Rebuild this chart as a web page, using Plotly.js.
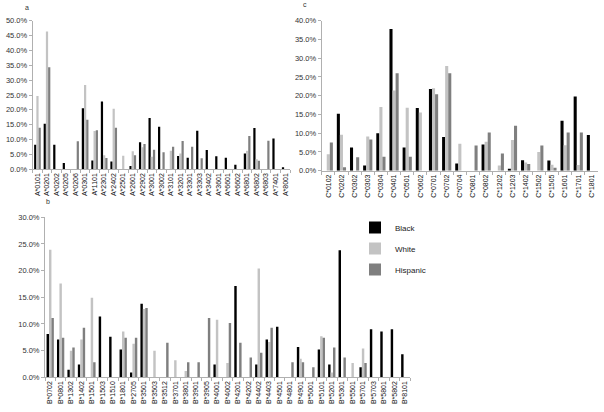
<!DOCTYPE html>
<html>
<head>
<meta charset="utf-8">
<script src="https://cdn.plot.ly/plotly-3.0.1.min.js"></script>
<style>
  html, body { margin: 0; padding: 0; background: #fff; }
  #myDiv { width: 604px; height: 412px; }
</style>
</head>
<body>
<div id="myDiv"></div>
<script>
// panel a - HLA-A
var aCats = ['A*0101','A*0201','A*0202','A*0205','A*0206','A*0301','A*1101','A*2301','A*2402','A*2501','A*2601','A*2902','A*3001','A*3002','A*3101','A*3201','A*3301','A*3303','A*3402','A*3601','A*6601','A*6602','A*6801','A*6802','A*6803','A*7401','A*8001'];
var aBlack = [8.3, 15.3, 8.3, 2.1, 0, 20.5, 3.0, 22.8, 2.6, 0, 1.1, 9.1, 17.3, 14.3, 0, 4.5, 3.9, 13.0, 6.5, 4.4, 3.9, 1.5, 5.3, 13.9, 0, 10.4, 0.7];
var aWhite = [24.7, 46.4, 0, 0, 0, 28.4, 12.9, 4.7, 20.4, 4.6, 6.1, 7.4, 4.2, 0, 6.2, 5.3, 0, 0, 0, 0, 0, 0, 6.2, 3.4, 0, 0, 0];
var aHisp = [14.0, 34.3, 0, 0, 9.4, 16.7, 13.1, 3.8, 14.0, 0, 4.7, 8.5, 6.6, 5.7, 7.6, 9.5, 7.6, 3.7, 0, 0, 0, 0, 11.2, 2.9, 9.6, 0, 0];

// panel c - HLA-C
var cCats = ['C*0102','C*0202','C*0302','C*0303','C*0304','C*0401','C*0501','C*0602','C*0701','C*0702','C*0704','C*0801','C*0802','C*1202','C*1203','C*1402','C*1502','C*1505','C*1601','C*1701','C*1801'];
var cBlack = [0, 15.2, 6.2, 1.4, 10.0, 37.8, 6.2, 16.7, 21.8, 9.0, 1.9, 0, 7.0, 0, 0.5, 2.8, 0, 2.7, 13.3, 19.8, 9.5];
var cWhite = [4.4, 9.6, 0, 9.1, 17.0, 21.4, 16.8, 15.5, 22.0, 27.9, 7.2, 0, 7.7, 1.4, 8.2, 2.2, 5.0, 1.6, 6.8, 1.5, 0];
var cHisp = [7.5, 0.9, 3.6, 8.3, 3.7, 26.0, 3.7, 0, 20.4, 26.0, 0, 6.7, 10.2, 4.6, 12.0, 1.8, 6.7, 0.8, 10.2, 10.2, 0];

// panel b - HLA-B
var bCats = ['B*0702','B*0801','B*1302','B*1402','B*1501','B*1503','B*1510','B*1801','B*2705','B*3501','B*3503','B*3512','B*3701','B*3801','B*3901','B*3905','B*4001','B*4002','B*4201','B*4202','B*4402','B*4403','B*4501','B*4801','B*4901','B*5001','B*5101','B*5201','B*5301','B*5501','B*5701','B*5703','B*5801','B*5802','B*8101'];
var bBlack = [8.1, 7.1, 1.4, 2.4, 0, 11.4, 7.6, 5.2, 0.9, 13.8, 0, 0, 0, 0, 0, 0, 2.4, 0, 17.1, 0, 2.4, 7.1, 9.5, 0, 5.7, 0, 5.2, 2.4, 23.8, 0, 1.9, 9.0, 8.6, 9.0, 4.3];
var bWhite = [23.9, 17.6, 5.0, 7.1, 14.9, 0, 0, 8.6, 6.3, 12.8, 5.0, 0, 3.2, 1.2, 0, 0, 10.8, 2.7, 0, 0, 20.4, 6.6, 0, 0, 3.5, 0, 7.7, 0.9, 0, 2.7, 5.4, 0, 0, 0, 0];
var bHisp = [11.1, 7.4, 5.6, 9.3, 2.8, 0, 0, 7.4, 7.4, 13.0, 0, 6.5, 0, 2.8, 2.8, 11.1, 0, 10.2, 6.5, 3.7, 4.6, 9.3, 0, 2.8, 2.8, 1.9, 7.4, 5.6, 3.7, 0, 2.7, 0, 0, 0, 0];

var groups = ['Black', 'White', 'Hispanic'];
var colors = ['#000000', '#c3c3c3', '#7f7f7f'];

function makeTraces(cats, series, xa, ya, legend) {
  return series.map(function (vals, i) {
    return {
      x: cats, y: vals, type: 'bar', name: groups[i],
      xaxis: xa, yaxis: ya,
      marker: {color: colors[i]},
      showlegend: legend, legendgroup: groups[i],
      hoverinfo: 'x+y+name'
    };
  });
}

var data = []
  .concat(makeTraces(aCats, [aBlack, aWhite, aHisp], 'x', 'y', false))
  .concat(makeTraces(cCats, [cBlack, cWhite, cHisp], 'x2', 'y2', false))
  .concat(makeTraces(bCats, [bBlack, bWhite, bHisp], 'x3', 'y3', true));

var W = 604, H = 412;
var font = {family: 'Liberation Sans, Arial, sans-serif', size: 7, color: '#222'};
var noLine = 'rgba(0,0,0,0)';

function xAxis(x0, x1, anchor) {
  return {
    domain: [x0 / W, x1 / W], anchor: anchor, type: 'category',
    showline: true, mirror: false, linecolor: '#b0b0b0', linewidth: 1,
    ticks: 'outside', ticklen: 3, tickcolor: '#b0b0b0', tickson: 'boundaries',
    tickangle: -90, tickfont: {family: font.family, size: 7, color: '#111'},
    showgrid: false, gridcolor: noLine, zeroline: false, zerolinecolor: noLine,
    fixedrange: true
  };
}
function yAxis(top, bottom, max, anchor) {
  return {
    domain: [1 - bottom / H, 1 - top / H], anchor: anchor, range: [0, max],
    dtick: 5, tickformat: '.1f', ticksuffix: '%',
    showline: true, mirror: false, linecolor: '#b0b0b0', linewidth: 1,
    ticks: 'outside', ticklen: 3, tickcolor: '#b0b0b0',
    showgrid: false, gridcolor: noLine, zeroline: false, zerolinecolor: noLine,
    tickfont: {family: font.family, size: 7.5, color: '#333'}, fixedrange: true
  };
}

var layout = {
  width: W, height: H,
  margin: {l: 0, r: 0, t: 0, b: 0},
  font: font,
  barmode: 'group', bargap: 0.3, bargroupgap: 0,
  xaxis: xAxis(32.7, 290, 'y'),
  yaxis: yAxis(20.7, 169.3, 50, 'x'),
  xaxis2: xAxis(321.7, 598, 'y2'),
  yaxis2: yAxis(20.7, 170.7, 40, 'x2'),
  xaxis3: xAxis(45, 410, 'y3'),
  yaxis3: yAxis(217.3, 377.3, 30, 'x3'),
  showlegend: true,
  legend: {
    x: 355 / W, y: 1 - 213 / H, xanchor: 'left', yanchor: 'top',
    bgcolor: 'rgba(0,0,0,0)', font: {family: font.family, size: 8, color: '#222'},
    tracegroupgap: 2, itemwidth: 30
  },
  annotations: [
    {text: 'a', x: 22.7 / W, y: 1 - 13 / H, yanchor: 'bottom', xref: 'paper', yref: 'paper', showarrow: false, font: {size: 7, color: '#333'}},
    {text: 'c', x: 305 / W, y: 1 - 10 / H, yanchor: 'bottom', xref: 'paper', yref: 'paper', showarrow: false, font: {size: 7, color: '#333'}},
    {text: 'b', x: 44.3 / W, y: 1 - 207 / H, yanchor: 'bottom', xref: 'paper', yref: 'paper', showarrow: false, font: {size: 7, color: '#333'}}
  ]
};

Plotly.newPlot('myDiv', data, layout, {displayModeBar: false, staticPlot: true});
</script>
</body>
</html>
